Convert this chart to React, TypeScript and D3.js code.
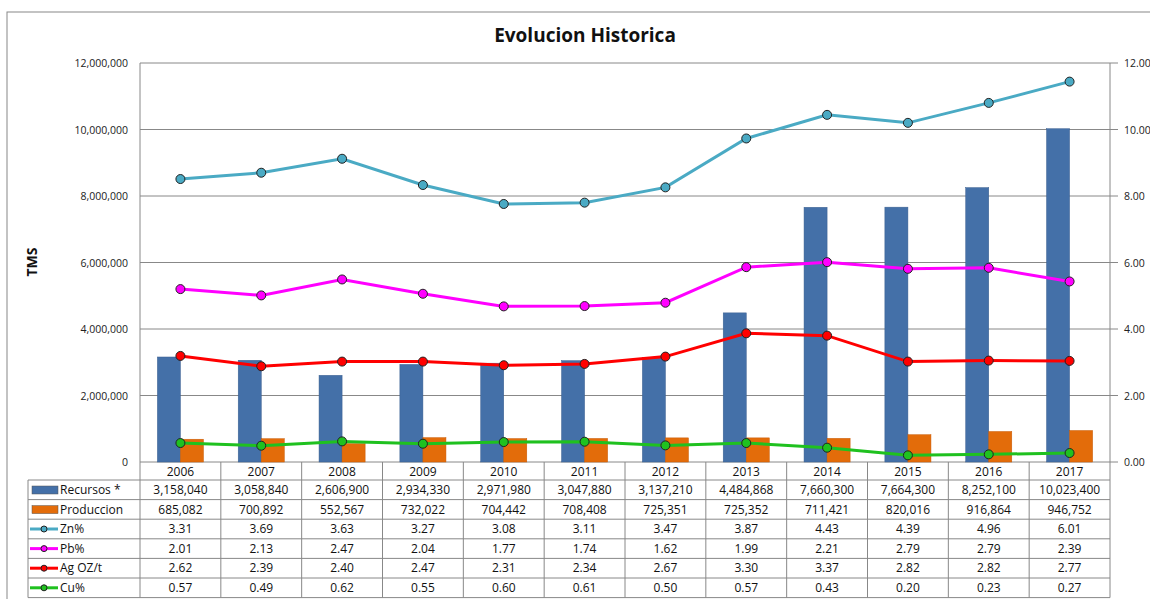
import * as d3 from "d3";

const years = ["2006", "2007", "2008", "2009", "2010", "2011", "2012", "2013", "2014", "2015", "2016", "2017"];
const recursos = [3158040, 3058840, 2606900, 2934330, 2971980, 3047880, 3137210, 4484868, 7660300, 7664300, 8252100, 10023400];
const produccion = [685082, 700892, 552567, 732022, 704442, 708408, 725351, 725352, 711421, 820016, 916864, 946752];
const zn = [3.31, 3.69, 3.63, 3.27, 3.08, 3.11, 3.47, 3.87, 4.43, 4.39, 4.96, 6.01];
const pb = [2.01, 2.13, 2.47, 2.04, 1.77, 1.74, 1.62, 1.99, 2.21, 2.79, 2.79, 2.39];
const ag = [2.62, 2.39, 2.40, 2.47, 2.31, 2.34, 2.67, 3.30, 3.37, 2.82, 2.82, 2.77];
const cu = [0.57, 0.49, 0.62, 0.55, 0.60, 0.61, 0.50, 0.57, 0.43, 0.20, 0.23, 0.27];
const leftTicks = [0, 2000000, 4000000, 6000000, 8000000, 10000000, 12000000];
const rightTicks = [0, 2, 4, 6, 8, 10, 12];

const W = 1150, H = 599;
const m = { left: 140, right: 1110, top: 63, bottom: 462 };
const font = "'Open Sans', sans-serif";

// lines are drawn stacked (Cu at bottom, then Ag, Pb, Zn)
const keys = ["cu", "ag", "pb", "zn"];
const rows = years.map((y, i) => ({ year: y, cu: cu[i], ag: ag[i], pb: pb[i], zn: zn[i] }));
const stacked = d3.stack<any>().keys(keys)(rows);
const lineColors: Record<string, string> = { zn: "#4aaac4", pb: "#ff00ff", ag: "#ff0000", cu: "#1fc11f" };

export default function App() {
  const x = d3.scaleBand().domain(years).range([m.left, m.right]);
  const yL = d3.scaleLinear().domain([0, 12000000]).range([m.bottom, m.top]);
  const yR = d3.scaleLinear().domain([0, 12]).range([m.bottom, m.top]);
  const bw = x.bandwidth() * 0.285;
  const cx = (y: string) => (x(y) as number) + x.bandwidth() / 2;

  const line = d3.line<any>().x((d) => cx(d.data.year)).y((d) => yR(d[1]));

  const tableLeft = 28;
  const yearRowH = 18;
  const rowH = 19.6;
  const tableRows = [
    { label: "Recursos *", kind: "bar", color: "#4470a8", vals: recursos.map((v) => d3.format(",")(v)) },
    { label: "Produccion", kind: "bar", color: "#e36c0a", vals: produccion.map((v) => d3.format(",")(v)) },
    { label: "Zn%", kind: "line", color: lineColors.zn, vals: zn.map((v) => v.toFixed(2)) },
    { label: "Pb%", kind: "line", color: lineColors.pb, vals: pb.map((v) => v.toFixed(2)) },
    { label: "Ag OZ/t", kind: "line", color: lineColors.ag, vals: ag.map((v) => v.toFixed(2)) },
    { label: "Cu%", kind: "line", color: lineColors.cu, vals: cu.map((v) => v.toFixed(2)) },
  ];
  const tTop = m.bottom + yearRowH;
  const tBottom = tTop + rowH * tableRows.length;
  const grid = "#888";

  return (
    <svg width={W} height={H} style={{ position: "absolute", left: 0, top: 0, background: "#fff" }} fontFamily={font}>
      <rect x={7} y={12} width={W} height={H} fill="#fff" stroke="#888" strokeWidth={1} />
      <text x={585} y={42} textAnchor="middle" fontSize={19} fontWeight="bold" fill="#111">Evolucion Historica</text>
      <text transform={`translate(37,${262}) rotate(-90)`} textAnchor="middle" fontSize={14} fontWeight="bold" fill="#111">TMS</text>

      {/* gridlines */}
      {leftTicks.map((t) => (
        <line key={t} x1={m.left} x2={m.right} y1={yL(t)} y2={yL(t)} stroke={grid} strokeWidth={1} />
      ))}
      <line x1={m.left} x2={m.left} y1={m.top} y2={m.bottom} stroke={grid} />
      <line x1={m.right} x2={m.right} y1={m.top} y2={m.bottom} stroke={grid} />

      {/* left axis labels */}
      {leftTicks.map((t) => (
        <text key={t} x={128} y={yL(t) + 4} textAnchor="end" fontSize={10.5} fill="#222">{d3.format(",")(t)}</text>
      ))}
      {/* right axis */}
      {rightTicks.map((t) => (
        <g key={t}>
          <line x1={m.right} x2={m.right + 8} y1={yR(t)} y2={yR(t)} stroke={grid} />
          <text x={m.right + 14} y={yR(t) + 4} fontSize={10.5} fill="#222">{t.toFixed(2)}</text>
        </g>
      ))}

      {/* bars */}
      {years.map((y, i) => (
        <g key={y}>
          <rect x={cx(y) - bw} y={yL(recursos[i])} width={bw} height={m.bottom - yL(recursos[i])} fill="#4470a8" stroke="#3a5f8f" strokeWidth={0.5} />
          <rect x={cx(y)} y={yL(produccion[i])} width={bw} height={m.bottom - yL(produccion[i])} fill="#e36c0a" stroke="#c85a05" strokeWidth={0.5} />
        </g>
      ))}

      {/* stacked lines */}
      {stacked.map((s) => (
        <g key={s.key}>
          <path d={line(s) as string} fill="none" stroke={lineColors[s.key]} strokeWidth={3} />
          {s.map((d, i) => (
            <circle key={i} cx={cx(d.data.year)} cy={yR(d[1])} r={4.5} fill={lineColors[s.key]} stroke="#222" strokeWidth={1} />
          ))}
        </g>
      ))}

      {/* data table */}
      <g fontSize={12} fill="#111">
        {years.map((y) => (
          <text key={y} x={cx(y)} y={m.bottom + 14} textAnchor="middle">{y}</text>
        ))}
        {years.map((y) => (
          <line key={y} x1={x(y)} x2={x(y)} y1={m.bottom} y2={tBottom} stroke={grid} />
        ))}
        <line x1={m.right} x2={m.right} y1={m.bottom} y2={tBottom} stroke={grid} />
        <line x1={tableLeft} x2={tableLeft} y1={tTop} y2={tBottom} stroke={grid} />
        <line x1={tableLeft} x2={m.right} y1={tTop} y2={tTop} stroke={grid} />
        {tableRows.map((r, ri) => {
          const ry = tTop + ri * rowH;
          return (
            <g key={r.label}>
              <line x1={tableLeft} x2={m.right} y1={ry + rowH} y2={ry + rowH} stroke={grid} />
              {r.kind === "bar" ? (
                <rect x={tableLeft + 4} y={ry + 6} width={26} height={8} fill={r.color} stroke="#555" strokeWidth={0.5} />
              ) : (
                <g>
                  <line x1={tableLeft + 2} x2={tableLeft + 30} y1={ry + rowH / 2} y2={ry + rowH / 2} stroke={r.color} strokeWidth={3} />
                  <circle cx={tableLeft + 16} cy={ry + rowH / 2} r={3} fill={r.color} stroke="#222" strokeWidth={1} />
                </g>
              )}
              <text x={tableLeft + 32} y={ry + 14}>{r.label}</text>
              {r.vals.map((v, i) => (
                <text key={i} x={cx(years[i])} y={ry + 14} textAnchor="middle">{v}</text>
              ))}
            </g>
          );
        })}
      </g>
    </svg>
  );
}
